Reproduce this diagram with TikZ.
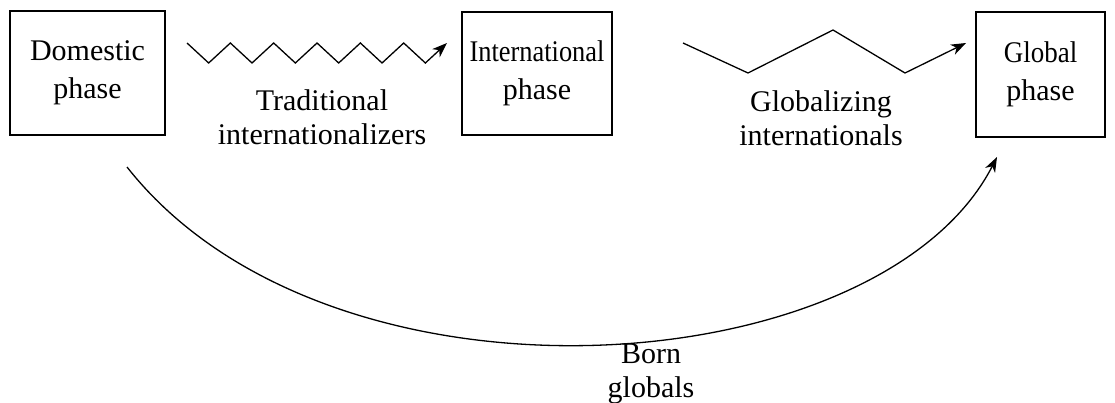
\documentclass[tikz,border=0pt]{standalone}
\usepackage{fontspec}
\setmainfont{Liberation Serif}
\usetikzlibrary{arrows.meta}
\begin{document}
\begin{tikzpicture}[x=1pt,y=-1pt,
  phasebox/.style={draw, line width=1.2pt, inner sep=0pt, align=center,
    font=\fontsize{30}{38}\selectfont},
  caption/.style={inner sep=0pt, align=center, font=\fontsize{30}{34}\selectfont},
  flow/.style={line width=1.3pt, line join=miter, -{Stealth[length=15pt,width=11pt,inset=4.5pt]}}]
\useasboundingbox (0,0) rectangle (1115,403);

% the three phases
\node[phasebox, minimum width=155pt, minimum height=124pt] (dom) at (87.5,73) {Domestic\\phase};
\node[phasebox, minimum width=150pt, minimum height=123pt] (intl) at (537,73.5) {\scalebox{0.88}[1]{International}\\phase};
\node[phasebox, minimum width=129pt, minimum height=125pt] (glob) at (1040.5,74.5) {\scalebox{0.9}[1]{Global}\\phase};

% path labels
\node[caption] (trad) at (322,117) {Traditional\\internationalizers};
\node[caption] (gi) at (821,118) {Globalizing\\internationals};
\node[caption] (born) at (651,374) {Born\\globals};

% ends of the connectors
\coordinate (t0) at (187,43);
\coordinate (t1) at (447,43);
\coordinate (g0) at (683,43);
\coordinate (g1) at (966,43);
\coordinate (b0) at (127,167);
\coordinate (b1) at (997,157);

% traditional route: many small steps
\draw[flow] (t0)
  \foreach \i in {1,...,11} {
    \ifodd\i -- ++(21.67,20) \else -- ++(21.67,-20) \fi
  } -- (t1);

% globalizing route: a few large steps
\draw[flow] (g0) -- (748,73) -- (833,30) -- (905,73) -- (g1);

% born-global route: straight to the global phase
\draw[flow] (b0) .. controls (330,425) and (880,385) .. (b1);
\end{tikzpicture}
\end{document}
